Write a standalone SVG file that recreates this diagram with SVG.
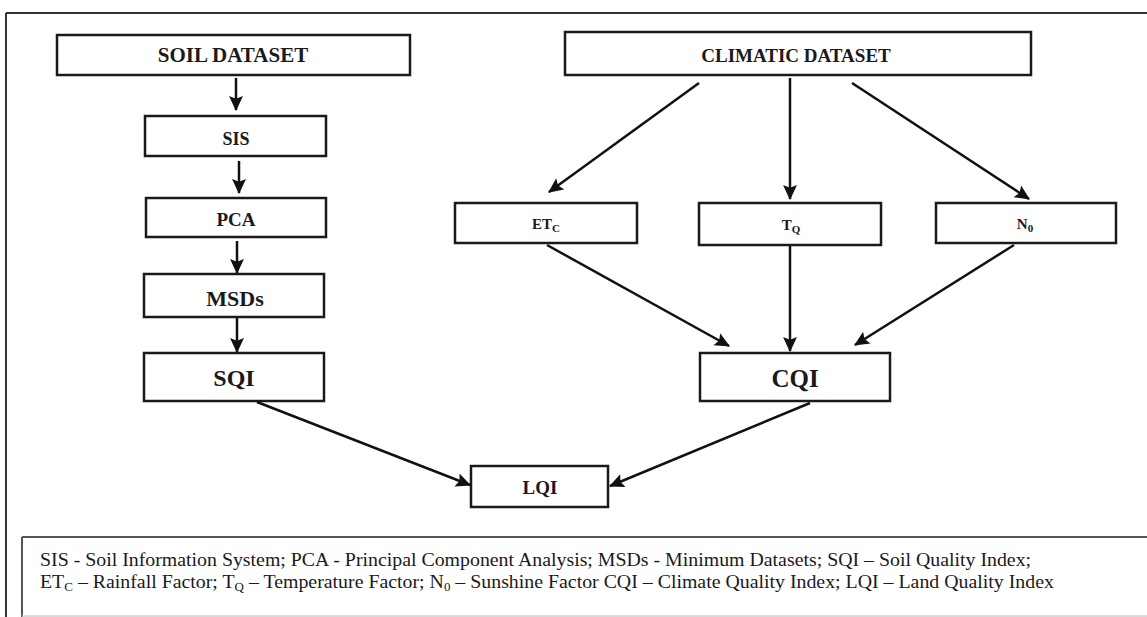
<svg xmlns="http://www.w3.org/2000/svg" width="1147" height="617" viewBox="0 0 1147 617">
<style>
.box{fill:#fff;stroke:#1a1a1a;stroke-width:2.5}
.t{font-family:"Liberation Serif","Times New Roman",serif;font-weight:bold;fill:#1a1a1a;text-anchor:middle}
.c{stroke:#111;stroke-width:2.5;fill:none;marker-end:url(#ah)}
.leg{font-family:"Liberation Serif","Times New Roman",serif;font-size:19.85px;fill:#1a1a1a}
</style>
<defs>
<marker id="ah" viewBox="0 0 14 14" refX="13" refY="7" markerWidth="15" markerHeight="15" markerUnits="userSpaceOnUse" orient="auto">
<path d="M0,0.5 L14,7 L0,13.5 L2.5,7 z" fill="#111"/>
</marker>
</defs>
<rect width="1147" height="617" fill="#fff"/>
<g id="frame" stroke="#333" stroke-width="2">
<line x1="6" y1="13" x2="1147" y2="13"/>
<line x1="6" y1="13" x2="6" y2="617"/>
</g>

<g id="soil-dataset"><rect class="box" x="57" y="35" width="353" height="40"/><text class="t" x="233" y="62" font-size="21">SOIL DATASET</text></g>
<g id="sis"><rect class="box" x="145" y="116" width="181" height="40"/><text class="t" x="236" y="145" font-size="18">SIS</text></g>
<g id="pca"><rect class="box" x="146" y="198" width="180" height="39"/><text class="t" x="236" y="226" font-size="19">PCA</text></g>
<g id="msds"><rect class="box" x="144" y="274" width="180" height="43"/><text class="t" x="235" y="306" font-size="22">MSDs</text></g>
<g id="sqi"><rect class="box" x="144" y="353" width="180" height="48"/><text class="t" x="234" y="386" font-size="24">SQI</text></g>

<g id="climatic-dataset"><rect class="box" x="565" y="32" width="466" height="43"/><text class="t" x="796" y="62" font-size="19">CLIMATIC DATASET</text></g>
<g id="etc"><rect class="box" x="455" y="203" width="182" height="40"/><text class="t" x="546" y="229" font-size="15">ET<tspan font-size="11" dy="3">C</tspan></text></g>
<g id="tq"><rect class="box" x="699" y="203" width="182" height="42"/><text class="t" x="791" y="230" font-size="15">T<tspan font-size="11" dy="3">Q</tspan></text></g>
<g id="n0"><rect class="box" x="936" y="203" width="180" height="40"/><text class="t" x="1025" y="229" font-size="15">N<tspan font-size="11" dy="3">0</tspan></text></g>
<g id="cqi"><rect class="box" x="700" y="353" width="190" height="48"/><text class="t" x="795" y="387" font-size="25">CQI</text></g>
<g id="lqi"><rect class="box" x="471" y="466" width="137" height="41"/><text class="t" x="540" y="494" font-size="19">LQI</text></g>

<g id="connectors">
<line class="c" x1="236" y1="78" x2="236" y2="110"/>
<line class="c" x1="239" y1="161" x2="239" y2="193"/>
<line class="c" x1="237" y1="241" x2="237" y2="273"/>
<line class="c" x1="237" y1="318" x2="237" y2="352"/>
<line class="c" x1="257" y1="402" x2="470" y2="485"/>
<line class="c" x1="699" y1="83" x2="549" y2="192"/>
<line class="c" x1="790" y1="78" x2="790" y2="199"/>
<line class="c" x1="852" y1="83" x2="1029" y2="199"/>
<line class="c" x1="547" y1="245" x2="729" y2="346"/>
<line class="c" x1="790" y1="246" x2="790" y2="351"/>
<line class="c" x1="1014" y1="245" x2="855" y2="345"/>
<line class="c" x1="810" y1="403" x2="610" y2="486"/>
</g>

<g id="legend">
<line x1="22" y1="537" x2="1147" y2="537" stroke="#555" stroke-width="2"/>
<line x1="22" y1="537" x2="22" y2="617" stroke="#555" stroke-width="2"/>
<line x1="22" y1="616" x2="1147" y2="616" stroke="#ccc" stroke-width="1.5"/>
<text class="leg" x="40" y="566">SIS - Soil Information System; PCA - Principal Component Analysis; MSDs - Minimum Datasets; SQI – Soil Quality Index;</text>
<text class="leg" x="40" y="588">ET<tspan font-size="13" dy="3">C</tspan><tspan dy="-3"> – Rainfall Factor; T</tspan><tspan font-size="13" dy="3">Q</tspan><tspan dy="-3"> – Temperature Factor; N</tspan><tspan font-size="13" dy="3">0</tspan><tspan dy="-3"> – Sunshine Factor CQI – Climate Quality Index; LQI – Land Quality Index</tspan></text>
</g>
</svg>
